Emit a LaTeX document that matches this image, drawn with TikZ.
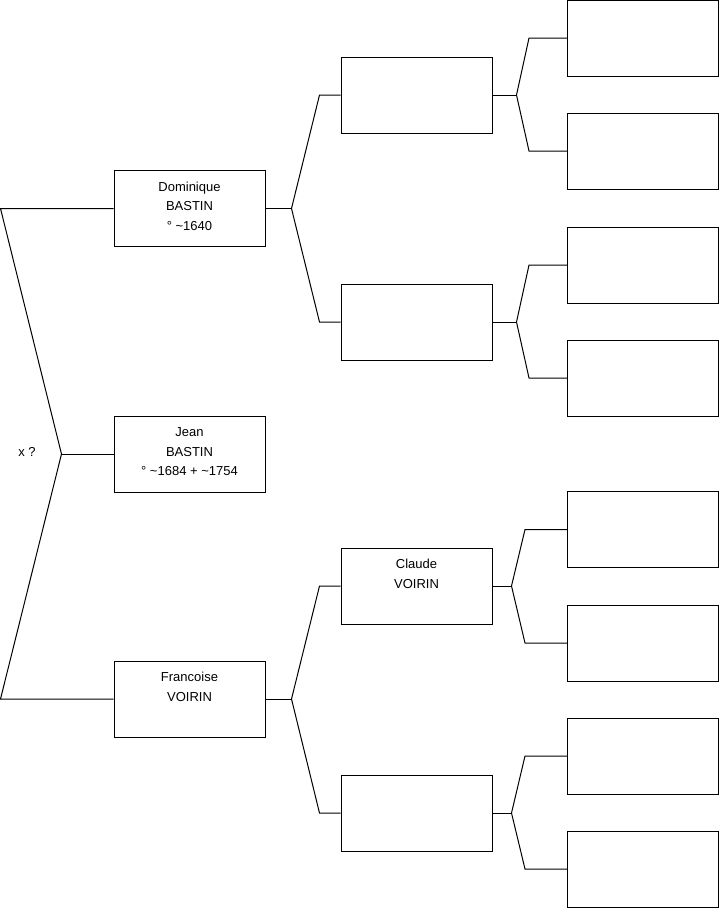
\documentclass[tikz,border=0pt]{standalone}
\usepackage{fontspec}
\setmainfont{Liberation Sans}
\usetikzlibrary{positioning, calc}

\begin{document}
\begin{tikzpicture}[
    x=1pt, y=-1pt,
    person/.style={rectangle, draw, line width=1pt, minimum width=151pt, minimum height=76pt, inner ysep=0pt, text height=20.5pt, text depth=55.5pt, align=center, font=\fontsize{13}{19.5}\selectfont},
    twolines/.style={text height=40pt, text depth=36pt},
    threelines/.style={text height=59.5pt, text depth=16.5pt},
    lbl/.style={font=\fontsize{13}{15}\selectfont},
    link/.style={line width=1pt, line join=miter}
]
\useasboundingbox (0,0) rectangle (719,908);

% Generation 1
\node[person, threelines] (jean) at (189.5,454) {Jean\\BASTIN\\° \textasciitilde1684 + \textasciitilde1754};
\node[person, threelines] (dom) at (189.5,208.5) {Dominique\\BASTIN\\° \textasciitilde1640};
\node[person, twolines] (fra) at (189.5,699) {Francoise\\VOIRIN};
\node[lbl] (xq) at (27,452) {x ?};

% Generation 2
\node[person] (pp) at (416.5,95) {};
\node[person] (pm) at (416.5,322) {};
\node[person, twolines] (claude) at (416.5,586) {Claude\\VOIRIN};
\node[person] (mm) at (416.5,813) {};

% Generation 3
\node[person] (g1) at (643,38) {};
\node[person, below=36pt of g1] (g2) {};
\node[person] (g3) at (643,265) {};
\node[person, below=36pt of g3] (g4) {};
\node[person] (g5) at (643,529.5) {};
\node[person, below=36.5pt of g5] (g6) {};
\node[person] (g7) at (643,756) {};
\node[person, below=36pt of g7] (g8) {};

% Fork points
\coordinate (froot) at ($(jean.west)+(-52,0)$);
\coordinate (fdom) at ($(dom.east)+(26,0)$);
\coordinate (ffra) at ($(fra.east)+(26,0)$);
\coordinate (fpp) at ($(pp.east)+(24,0)$);
\coordinate (fpm) at ($(pm.east)+(24,0)$);
\coordinate (fcl) at ($(claude.east)+(19,0)$);
\coordinate (fmm) at ($(mm.east)+(19,0)$);

% Links
\draw[link] (jean.west) -- (froot);
\draw[link] (dom.west) -- ++(-113,0) -- (froot) -- ([xshift=-113pt]fra.west) -- (fra.west);

\draw[link] (dom.east) -- (fdom);
\draw[link] (pp.west) -- ++(-21,0) -- (fdom) -- ([xshift=-21pt]pm.west) -- (pm.west);
\draw[link] (fra.east) -- (ffra);
\draw[link] (claude.west) -- ++(-21,0) -- (ffra) -- ([xshift=-21pt]mm.west) -- (mm.west);

\draw[link] (pp.east) -- (fpp);
\draw[link] (g1.west) -- ++(-38,0) -- (fpp) -- ([xshift=-38pt]g2.west) -- (g2.west);
\draw[link] (pm.east) -- (fpm);
\draw[link] (g3.west) -- ++(-38,0) -- (fpm) -- ([xshift=-38pt]g4.west) -- (g4.west);
\draw[link] (claude.east) -- (fcl);
\draw[link] (g5.west) -- ++(-42,0) -- (fcl) -- ([xshift=-42pt]g6.west) -- (g6.west);
\draw[link] (mm.east) -- (fmm);
\draw[link] (g7.west) -- ++(-42,0) -- (fmm) -- ([xshift=-42pt]g8.west) -- (g8.west);

\end{tikzpicture}
\end{document}
